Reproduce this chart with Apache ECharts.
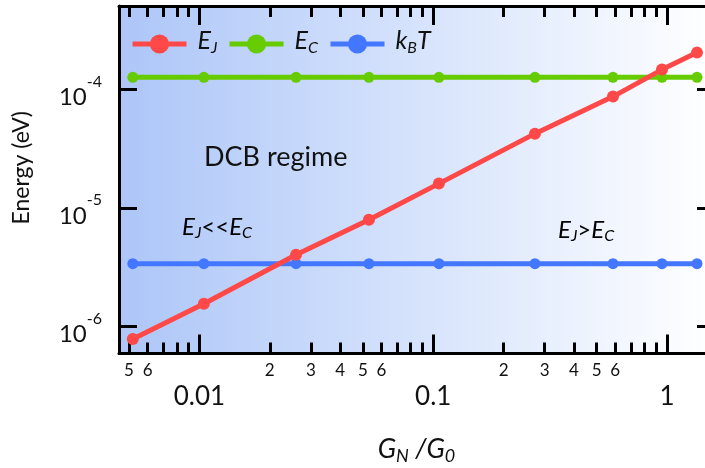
<!DOCTYPE html>
<html><head><meta charset="utf-8">
<script src="https://cdn.jsdelivr.net/npm/echarts@6/dist/echarts.min.js"></script>
<style>html,body{margin:0;padding:0;background:#fff}#c{width:705px;height:468px}</style>
</head><body><div id="c"></div>
<script>
// ---- data ----
const G   = [0.00519, 0.01045, 0.0259, 0.0531, 0.1058, 0.2724, 0.5875, 0.952, 1.344];
const EJ  = [7.89e-7, 1.56e-6, 4.04e-6, 7.98e-6, 1.61e-5, 4.25e-5, 8.73e-5, 1.475e-4, 2.05e-4];
const EC  = [1.27e-4, 1.27e-4, 1.27e-4, 1.27e-4, 1.27e-4, 1.27e-4, 1.27e-4, 1.27e-4, 1.27e-4];
const KBT = [3.4e-6, 3.4e-6, 3.4e-6, 3.4e-6, 3.4e-6, 3.4e-6, 3.4e-6, 3.4e-6, 3.4e-6];

const xMajorTicks  = [0.01, 0.1, 1];
const xMajorLabels = ['0.01', '0.1', '1'];
const xMinorTicks  = [0.005, 0.006, 0.007, 0.008, 0.009,
                      0.02, 0.03, 0.04, 0.05, 0.06, 0.07, 0.08, 0.09,
                      0.2, 0.3, 0.4, 0.5, 0.6, 0.7, 0.8, 0.9];
const xMinorLabelValues = [0.005, 0.006, 0.02, 0.03, 0.04, 0.05, 0.06, 0.2, 0.3, 0.4, 0.5, 0.6];
const xMinorLabels      = ['5', '6', '2', '3', '4', '5', '6', '2', '3', '4', '5', '6'];
const yTicks     = [1e-6, 1e-5, 1e-4];
const yExponents = ['-6', '-5', '-4'];

const XMIN = 0.004529, XMAX = 1.589;
const YMIN = 5.94e-7, YMAX = 5.07e-4;

const FONT = 'Lato';
const TXT = '#111';

function pick(vals, labels, v) {
  let best = 0, bd = Infinity;
  for (let i = 0; i < vals.length; i++) {
    const d = Math.abs(Math.log(vals[i]) - Math.log(v));
    if (d < bd) { bd = d; best = i; }
  }
  return labels[best];
}
function pairs(ys) { return G.map((g, i) => [g, ys[i]]); }

function subRich(big, small, shift) {
  return {
    i: {fontFamily: FONT, fontStyle: 'italic', fontSize: big, lineHeight: big + 2, padding: [0, 0, shift, 0], color: TXT},
    s: {fontFamily: FONT, fontStyle: 'italic', fontSize: small, lineHeight: big + 2, padding: [shift, 0, 0, 0], color: TXT},
    r: {fontFamily: FONT, fontSize: big, lineHeight: big + 2, padding: [0, 0, shift, 0], color: TXT}
  };
}
const legendNames = {
  'E_J': '{i|E}{s|J}',
  'E_C': '{i|E}{s|C}',
  'k_BT': '{i|k}{s|B}{i|T}'
};
function legendOf(name, left) {
  return {
    data: [name], left: left, top: 28, padding: 0,
    itemWidth: 54, itemHeight: 24,
    lineStyle: {width: 5},
    formatter: n => legendNames[n],
    textStyle: {padding: [0, 0, 0, 6], rich: subRich(25, 16, 7)},
    selectedMode: false
  };
}

const tickStyle = {color: '#000', width: 3};
const axisLineStyle = {show: true, onZero: false, lineStyle: {color: '#000', width: 3}};

const chart = echarts.init(document.getElementById('c'), null, {renderer: 'canvas'});
chart.setOption({
  animation: false,
  grid: {
    left: 119, top: 6, right: -9, bottom: 114.5,
    outerBoundsMode: 'none', containLabel: false,
    show: true, borderWidth: 0,
    backgroundColor: {type: 'linear', x: 0, y: 0, x2: 1, y2: 0,
      colorStops: [{offset: 0, color: '#adc6f8'}, {offset: 0.5, color: '#d6e3fc'}, {offset: 1, color: '#ffffff'}]}
  },
  legend: [legendOf('E_J', 130), legendOf('E_C', 227), legendOf('k_BT', 328)],
  xAxis: [
    { type: 'log', logBase: 10, min: XMIN, max: XMAX, position: 'bottom',
      axisLine: axisLineStyle,
      axisTick: {show: true, inside: true, length: 11, lineStyle: tickStyle, customValues: xMinorTicks},
      axisLabel: {show: true, customValues: xMinorLabelValues, margin: 9, fontSize: 17, fontFamily: FONT, color: TXT,
                  formatter: v => pick(xMinorLabelValues, xMinorLabels, v)},
      splitLine: {show: false}
    },
    { type: 'log', logBase: 10, min: XMIN, max: XMAX, position: 'bottom',
      axisLine: {show: false},
      axisTick: {show: true, inside: true, length: 19, lineStyle: tickStyle, customValues: xMajorTicks},
      axisLabel: {show: true, customValues: xMajorTicks, margin: 30, fontSize: 26, fontFamily: FONT, color: TXT,
                  formatter: v => pick(xMajorTicks, xMajorLabels, v)},
      splitLine: {show: false},
      name: '{i|G}{s|N}{i| /G}{s|0}', nameLocation: 'middle', nameGap: 85,
      nameTextStyle: {rich: subRich(27, 18, 7)}
    },
    { type: 'log', logBase: 10, min: XMIN, max: XMAX, position: 'top',
      axisLine: axisLineStyle,
      axisTick: {show: true, inside: true, length: 11, lineStyle: tickStyle, customValues: xMinorTicks},
      axisLabel: {show: false}, splitLine: {show: false}
    },
    { type: 'log', logBase: 10, min: XMIN, max: XMAX, position: 'top',
      axisLine: {show: false},
      axisTick: {show: true, inside: true, length: 19, lineStyle: tickStyle, customValues: xMajorTicks},
      axisLabel: {show: false}, splitLine: {show: false}
    }
  ],
  yAxis: [
    { type: 'log', logBase: 10, min: YMIN, max: YMAX, position: 'left',
      axisLine: axisLineStyle,
      axisTick: {show: true, inside: true, length: 18, lineStyle: tickStyle, customValues: yTicks},
      axisLabel: {show: true, customValues: yTicks, margin: 17,
                  formatter: v => '{b|10}{e|' + pick(yTicks, yExponents, v) + '}',
                  rich: {
                    b: {fontFamily: FONT, fontSize: 24, lineHeight: 24, padding: [16, 0, 0, 0], color: TXT},
                    e: {fontFamily: FONT, fontSize: 16, lineHeight: 24, padding: [0, 0, 16, 0], color: TXT}
                  }},
      splitLine: {show: false},
      name: 'Energy (eV)', nameLocation: 'middle', nameGap: 86,
      nameTextStyle: {fontFamily: FONT, fontSize: 23, color: TXT, padding: [0, 0, 0, 24]}
    },
    { type: 'log', logBase: 10, min: YMIN, max: YMAX, position: 'right',
      axisLine: axisLineStyle,
      axisTick: {show: true, inside: true, length: 17, lineStyle: tickStyle, customValues: yTicks},
      axisLabel: {show: false}, splitLine: {show: false}
    }
  ],
  graphic: [
    {type: 'text', x: 204, y: 157, style: {text: 'DCB regime', fontFamily: FONT, fontSize: 27, fill: TXT, verticalAlign: 'middle', align: 'left'}},
    {type: 'text', x: 182, y: 230, style: {text: '{i|E}{s|J}{r|<<}{i|E}{s|C}', rich: subRich(24, 16, 6), verticalAlign: 'middle', align: 'left'}},
    {type: 'text', x: 558, y: 233, style: {text: '{i|E}{s|J}{r|>}{i|E}{s|C}', rich: subRich(24, 16, 6), verticalAlign: 'middle', align: 'left'}}
  ],
  series: [
    {name: 'k_BT', type: 'line', xAxisIndex: 0, yAxisIndex: 0, data: pairs(KBT),
     symbol: 'circle', symbolSize: 11, color: '#4477ff', lineStyle: {width: 5, color: '#4477ff'}, itemStyle: {color: '#4477ff'}},
    {name: 'E_C', type: 'line', xAxisIndex: 0, yAxisIndex: 0, data: pairs(EC),
     symbol: 'circle', symbolSize: 11, color: '#66cc00', lineStyle: {width: 5, color: '#66cc00'}, itemStyle: {color: '#66cc00'}},
    {name: 'E_J', type: 'line', xAxisIndex: 0, yAxisIndex: 0, data: pairs(EJ),
     symbol: 'circle', symbolSize: 12, color: '#ff4848', lineStyle: {width: 5, color: '#ff4848'}, itemStyle: {color: '#ff4848'}}
  ]
});
</script></body></html>
